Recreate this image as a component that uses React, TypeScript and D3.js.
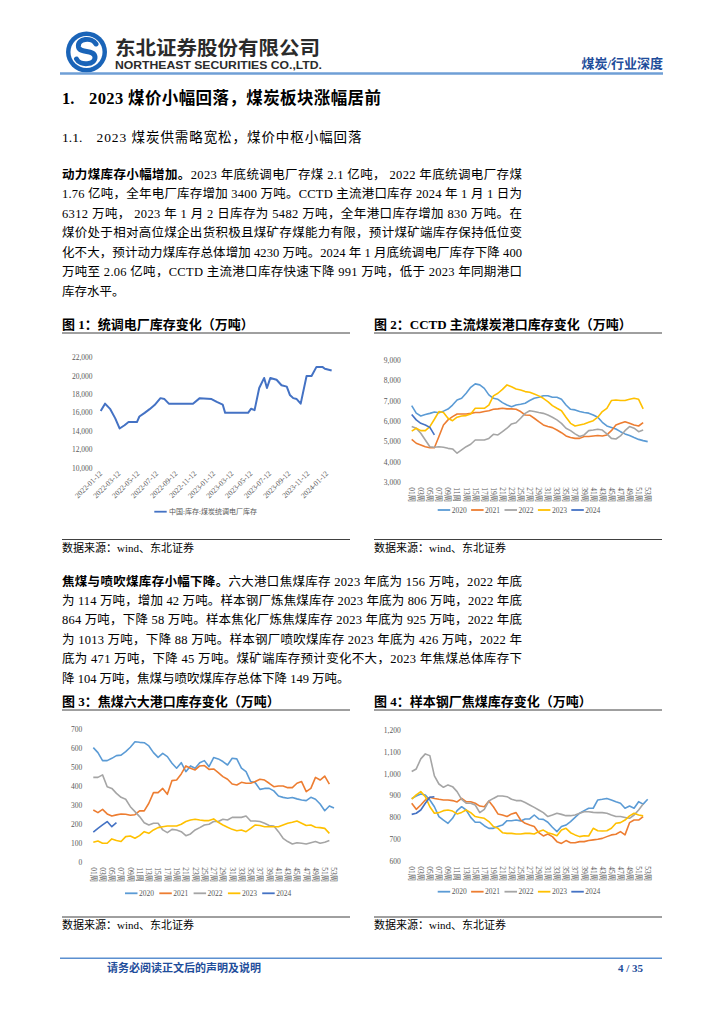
import React from 'react';
import * as d3 from 'd3';

const SERIF = '"Liberation Serif", "Times New Roman", "Noto Sans CJK SC", serif';
const SANS = '"Liberation Sans", Arial, sans-serif';

// ---- shared
const yearNames = ['2020', '2021', '2022', '2023', '2024'];
const yearColors = ['#5B9BD5', '#ED7D31', '#A5A5A5', '#FFC000', '#4472C4'];
const weekTicks = ['01周', '03周', '05周', '07周', '09周', '11周', '13周', '15周', '17周', '19周', '21周', '23周', '25周', '27周',
  '29周', '31周', '33周', '35周', '37周', '39周', '41周', '43周', '45周', '47周', '49周', '51周', '53周'];

// ---- 图1 统调电厂库存
const plantDates = ['2022-01-12', '2022-01-26', '2022-02-12', '2022-02-28', '2022-03-14', '2022-03-30', '2022-04-12', '2022-05-09',
  '2022-05-17', '2022-06-03', '2022-06-19', '2022-07-05', '2022-07-24', '2022-08-06', '2022-08-20', '2022-11-06', '2022-11-28',
  '2023-01-05', '2023-01-22', '2023-02-10', '2023-02-18', '2023-05-03', '2023-05-13', '2023-05-24', '2023-06-08', '2023-06-24',
  '2023-07-03', '2023-07-14', '2023-08-03', '2023-08-19', '2023-09-05', '2023-09-15', '2023-09-26', '2023-10-07', '2023-10-20',
  '2023-11-08', '2023-11-24', '2023-12-10', '2023-12-29', '2024-01-06', '2024-01-28'];
const plantStock = [16200, 17000, 16400, 15400, 14300, 14650, 15000, 15000, 15600, 16000, 16400, 16850, 17600, 17500, 17000, 17000,
  17600, 17500, 17200, 16900, 16000, 16000, 16450, 16300, 18700, 19800, 18700, 19800, 19600, 19000, 18850, 17950, 17600, 17500,
  17000, 20000, 20000, 21000, 21000, 20800, 20600];
const plantTicks = ['2022-01-12', '2022-03-12', '2022-05-12', '2022-07-12', '2022-09-12', '2022-11-12', '2023-01-12', '2023-03-12',
  '2023-05-12', '2023-07-12', '2023-09-12', '2023-11-12', '2024-01-12'];
const plantYTicks = [10000, 12000, 14000, 16000, 18000, 20000, 22000];

// ---- 图2 CCTD 主流港口库存
const cctd2020 = [6770, 6400, 6260, 6330, 6390, 6460, 6420, 6500, 6600, 6800, 7050, 7130, 7380, 7670, 7840, 7790, 7620, 7300, 7130,
  7080, 6920, 6800, 6720, 6800, 6840, 6890, 7020, 7130, 7180, 7260, 7260, 7180, 7180, 7080, 6800, 6590, 6560, 6480, 6430, 6400,
  6310, 6200, 5950, 5770, 5700, 5620, 5490, 5380, 5300, 5200, 5110, 5050, 5000];
const cctd2021 = [5110, 4920, 4840, 4750, 4700, 4700, 5250, 5820, 6070, 6230, 6360, 6360, 6360, 6390, 6430, 6430, 6480, 6520, 6590,
  6610, 6640, 6610, 6610, 6590, 6480, 6310, 6300, 6150, 5980, 5820, 5740, 5690, 5570, 5440, 5280, 5200, 5160, 5160, 5250, 5250,
  5280, 5300, 5280, 5330, 5540, 5820, 5900, 5980, 5900, 5820, 5770, 5930];
const cctd2022 = [5740, 5660, 5410, 5080, 4750, 4720, 4750, 4720, 4670, 4640, 4430, 4590, 4750, 4870, 5080, 5080, 5080, 5160, 5360,
  5330, 5490, 5660, 5870, 5930, 6150, 6390, 6520, 6480, 6430, 6390, 6310, 6200, 6070, 5900, 5660, 5540, 5380, 5250, 5330, 5540,
  5570, 5610, 5570, 5380, 5160, 5130, 5280, 5540, 5740, 5660, 5490, 5570];
const cctd2023 = [5520, 5660, 5540, 5540, 5740, 6100, 6480, 6430, 6150, 6030, 6200, 6260, 6280, 6360, 6640, 6640, 6640, 6800, 7250,
  7380, 7570, 7790, 7700, 7590, 7540, 7460, 7430, 7340, 7250, 7130, 6970, 6770, 6640, 6520, 6200, 5900, 5770, 5820, 5870, 5950,
  6030, 6200, 6480, 6640, 7020, 7050, 7020, 7020, 7080, 7130, 7080, 6610];
const cctd2024 = [6340, 6070, 5900, 5820, 5700, 5330];
const cctdYTicks = [3000, 4000, 5000, 6000, 7000, 8000, 9000];

// ---- 图3 焦煤六大港口库存
const coke2020 = [602, 576, 534, 534, 546, 560, 563, 581, 604, 633, 630, 628, 611, 576, 551, 572, 555, 520, 494, 523, 476, 506, 494,
  523, 534, 502, 550, 543, 529, 511, 546, 543, 494, 476, 424, 418, 383, 388, 388, 375, 348, 341, 336, 340, 333, 327, 324, 341, 331,
  306, 271, 296, 285];
const coke2021 = [275, 261, 278, 254, 243, 249, 254, 252, 247, 250, 270, 270, 310, 366, 366, 388, 357, 429, 432, 464, 506, 494, 485,
  506, 508, 488, 490, 471, 450, 436, 411, 406, 420, 415, 415, 424, 436, 432, 415, 397, 401, 401, 392, 392, 415, 424, 371, 388, 446,
  432, 453, 410];
const coke2022 = [446, 446, 459, 397, 388, 362, 341, 331, 292, 266, 240, 208, 196, 205, 205, 170, 156, 173, 170, 161, 140, 149, 170,
  182, 196, 200, 214, 214, 226, 222, 236, 236, 236, 243, 217, 217, 214, 205, 193, 191, 161, 126, 109, 96, 103, 100, 96, 103, 109,
  100, 105, 114];
const coke2023 = [105, 112, 100, 100, 123, 114, 109, 135, 138, 126, 140, 161, 152, 170, 182, 187, 191, 191, 191, 200, 214, 222, 226,
  222, 219, 219, 228, 210, 196, 184, 173, 166, 170, 161, 178, 196, 193, 187, 187, 187, 187, 196, 205, 210, 217, 205, 193, 196, 184,
  182, 178, 152];
const coke2024 = [158, 178, 196, 214, 187, 208];
const cokeYTicks = [0, 100, 200, 300, 400, 500, 600, 700];

// ---- 图4 样本钢厂焦煤库存
const steel2020 = [887, 899, 908, 904, 881, 850, 805, 789, 774, 797, 832, 850, 835, 801, 779, 779, 763, 751, 751, 759, 766, 786, 786,
  789, 785, 794, 794, 812, 794, 792, 779, 756, 736, 759, 766, 782, 801, 820, 832, 843, 843, 881, 884, 888, 881, 873, 866, 843, 853,
  843, 873, 862, 884];
const steel2021 = [866, 838, 858, 881, 893, 888, 884, 881, 881, 878, 872, 888, 873, 873, 866, 853, 850, 876, 850, 817, 812, 805, 817,
  823, 789, 774, 766, 759, 731, 716, 725, 713, 690, 682, 695, 685, 685, 690, 690, 695, 698, 701, 705, 713, 721, 724, 736, 721, 777,
  789, 789, 805];
const steel2022 = [1011, 1023, 1069, 1092, 1084, 991, 954, 939, 950, 942, 919, 884, 866, 866, 858, 823, 838, 876, 888, 899, 899, 896,
  884, 878, 878, 869, 858, 847, 835, 823, 805, 812, 820, 815, 809, 809, 812, 820, 827, 827, 824, 823, 823, 820, 812, 805, 805, 801,
  797, 812, 835, 862];
const steel2023 = [885, 904, 919, 896, 850, 820, 823, 832, 835, 830, 817, 824, 835, 823, 805, 801, 797, 782, 759, 751, 731, 728, 728,
  725, 725, 728, 728, 725, 736, 743, 731, 725, 717, 743, 751, 731, 721, 713, 717, 716, 751, 740, 739, 740, 751, 774, 777, 789, 808,
  820, 812, 808];
const steel2024 = [815, 820, 835, 866, 893, 896];
const steelYTicks = [600, 700, 800, 900, 1000, 1100, 1200];

// ---- text
const para1 = [
  '2023 年底统调电厂存煤 2.1 亿吨， 2022 年底统调电厂存煤',
  '1.76 亿吨，全年电厂库存增加 3400 万吨。CCTD  主流港口库存 2024 年 1 月 1 日为',
  '6312 万吨， 2023 年 1 月 2 日库存为 5482 万吨，全年港口库存增加 830 万吨。在',
  '煤价处于相对高位煤企出货积极且煤矿存煤能力有限，预计煤矿端库存保持低位变',
  '化不大，预计动力煤库存总体增加 4230 万吨。2024 年 1 月底统调电厂库存下降 400',
  '万吨至 2.06 亿吨，CCTD 主流港口库存快速下降 991 万吨，低于 2023 年同期港口',
  '库存水平。',
];
const para2 = [
  '六大港口焦煤库存 2023 年底为 156 万吨，2022 年底',
  '为 114 万吨，增加 42 万吨。样本钢厂炼焦煤库存 2023 年底为 806 万吨，2022 年底',
  '864 万吨，下降 58 万吨。样本焦化厂炼焦煤库存 2023 年底为 925 万吨，2022 年底',
  '为 1013 万吨，下降 88 万吨。样本钢厂喷吹煤库存 2023 年底为 426 万吨，2022 年',
  '底为 471 万吨，下降 45 万吨。煤矿端库存预计变化不大，2023 年焦煤总体库存下',
  '降 104 万吨，焦煤与喷吹煤库存总体下降 149 万吨。',
];

const Paragraph = ({ lead, lines, y0, step }: { lead: string; lines: string[]; y0: number; step: number }) => (
  <g fontFamily={SERIF} fontSize={12.5} fill="#000">
    {lines.map((l, i) => {
      const last = i === lines.length - 1;
      return (
        <text key={i} x={62} y={y0 + i * step} textLength={last ? undefined : 460} lengthAdjust="spacing">
          {i === 0 && <tspan fontWeight="bold">{lead}</tspan>}
          {l}
        </text>
      );
    })}
  </g>
);

const FigTitle = ({ x, y, w, text }: { x: number; y: number; w: number; text: string }) => (
  <g>
    <text x={x} y={y} fontFamily={SERIF} fontSize={13} fontWeight="bold" fill="#000">{text}</text>
    <line x1={x} x2={x + w} y1={y + 4.5} y2={y + 4.5} stroke="#404040" strokeWidth={1} />
  </g>
);

const Source = ({ x, y, w }: { x: number; y: number; w: number }) => (
  <g>
    <line x1={x} x2={x + w} y1={y - 8} y2={y - 8} stroke="#404040" strokeWidth={1} />
    <text x={x} y={y + 4} fontFamily={SERIF} fontSize={11} fill="#000">数据来源：wind、东北证券</text>
  </g>
);

type WeekProps = {
  series: number[][];
  yTicks: number[];
  x0: number; x1: number; yTop: number; yBottom: number;
  legendX: number; legendY: number; legendStep: number;
  fmt: (n: number) => string;
};

const WeekChart = ({ series, yTicks, x0, x1, yTop, yBottom, legendX, legendY, legendStep, fmt }: WeekProps) => {
  const x = d3.scaleLinear().domain([1, 53]).range([x0, x1]);
  const y = d3.scaleLinear().domain(d3.extent(yTicks) as [number, number]).range([yBottom, yTop]);
  const line = d3.line<number>().x((_, i) => x(i + 1)).y((d) => y(d));
  return (
    <g>
      {yTicks.map((t) => (
        <text key={t} x={x0 - 11} y={y(t)} dy="0.35em" textAnchor="end" fontFamily={SERIF} fontSize={7.5} fill="#595959">{fmt(t)}</text>
      ))}
      {weekTicks.map((t) => {
        const w = parseInt(t, 10);
        return (
          <text key={t} transform={`translate(${x(w)},${yBottom + 5}) rotate(90)`} dy="0.35em" fontFamily={SERIF} fontSize={7.5} fill="#595959">{t}</text>
        );
      })}
      {series.map((s, i) => (
        <path key={i} d={line(s) || ''} fill="none" stroke={yearColors[i]} strokeWidth={1.6} strokeLinejoin="round" />
      ))}
      {yearNames.map((n, i) => (
        <g key={n} transform={`translate(${legendX + i * legendStep},${legendY})`}>
          <line x1={0} x2={12.5} y1={0} y2={0} stroke={yearColors[i]} strokeWidth={1.8} />
          <text x={14} y={0} dy="0.35em" fontFamily={SERIF} fontSize={7.5} fill="#595959">{n}</text>
        </g>
      ))}
    </g>
  );
};

const PlantChart = () => {
  const parse = d3.timeParse('%Y-%m-%d');
  const x = d3.scaleTime().domain([parse('2022-01-12')!, parse('2024-01-12')!]).range([100.7, 326.7]);
  const y = d3.scaleLinear().domain([10000, 22000]).range([468, 357.7]);
  const pts = plantDates.map((d, i) => [x(parse(d)!), y(plantStock[i])] as [number, number]);
  const line = d3.line();
  const fmt = d3.format(',');
  return (
    <g>
      {plantYTicks.map((t) => (
        <text key={t} x={92.5} y={y(t)} dy="0.35em" textAnchor="end" fontFamily={SERIF} fontSize={7.5} fill="#595959">{fmt(t)}</text>
      ))}
      {plantTicks.map((t) => (
        <text key={t} transform={`translate(${x(parse(t)!) + 2},${474}) rotate(-45)`} textAnchor="end" fontFamily={SERIF} fontSize={7.5} fill="#595959">{t}</text>
      ))}
      <path d={line(pts) || ''} fill="none" stroke="#4472C4" strokeWidth={2} strokeLinejoin="round" />
      <line x1={154.3} x2={166.7} y1={511.7} y2={511.7} stroke="#4472C4" strokeWidth={1.8} />
      <text x={169} y={511.7} dy="0.35em" fontFamily={SERIF} fontSize={7} fill="#595959">中国:库存:煤炭统调电厂库存</text>
    </g>
  );
};

export default function App() {
  const comma = d3.format(',');
  return (
    <svg width={724} height={1024} viewBox="0 0 724 1024" style={{ position: 'absolute', left: 0, top: 0, background: '#fff' }}>
      <rect width={724} height={1024} fill="#fff" />
      {/* header */}
      <circle cx={86.5} cy={52} r={20.5} fill="#1a64b8" />
      <circle cx={86.5} cy={52} r={16} fill="#fff" />
      <path d="M 96 44 C 92 37, 77 38, 78.5 47 C 80 54, 94.5 49, 95 57 C 95.5 65, 80 66, 76.5 59" fill="none" stroke="#1a64b8" strokeWidth={5} strokeLinecap="round" />
      <text x={115} y={54.5} fontFamily='"Noto Sans CJK SC", sans-serif' fontWeight="bold" fontSize={19} textLength={205} lengthAdjust="spacingAndGlyphs" fill="#2b2b2b">东北证券股份有限公司</text>
      <text x={115} y={68.5} fontFamily={SANS} fontWeight="bold" fontSize={11.5} textLength={207} lengthAdjust="spacingAndGlyphs" fill="#2b2b2b">NORTHEAST SECURITIES CO.,LTD.</text>
      <text x={663} y={67.5} textAnchor="end" fontFamily={SERIF} fontSize={13} fontWeight="bold" fill="#1f4e9b">煤炭/行业深度</text>
      <line x1={60} x2={663} y1={73.5} y2={73.5} stroke="#6f9fd6" strokeWidth={2.5} />

      {/* headings */}
      <g fontFamily={SERIF} fontWeight="bold" fontSize={16.5} fill="#000">
        <text x={62} y={104}>1.</text>
        <text x={89} y={104} textLength={292} lengthAdjust="spacing">2023 煤价小幅回落，煤炭板块涨幅居前</text>
      </g>
      <g fontFamily={SERIF} fontSize={13.5} fill="#000">
        <text x={62} y={141.5}>1.1.</text>
        <text x={96.5} y={141.5} textLength={265} lengthAdjust="spacing">2023 煤炭供需略宽松，煤价中枢小幅回落</text>
      </g>

      <Paragraph lead="动力煤库存小幅增加。" lines={para1} y0={178.5} step={19.5} />

      {/* figures row 1 */}
      <FigTitle x={62} y={328.5} w={288} text="图 1：统调电厂库存变化（万吨）" />
      <FigTitle x={374} y={328.5} w={288} text="图 2：CCTD 主流煤炭港口库存变化（万吨）" />
      <PlantChart />
      <WeekChart series={[cctd2020, cctd2021, cctd2022, cctd2023, cctd2024]} yTicks={cctdYTicks} x0={411.7} x1={647.7}
        yTop={360.3} yBottom={482.3} legendX={437.7} legendY={510} legendStep={33.4} fmt={comma} />
      <Source x={62} y={547.5} w={288} />
      <Source x={374} y={547.5} w={288} />

      <Paragraph lead="焦煤与喷吹煤库存小幅下降。" lines={para2} y0={585.5} step={19.4} />

      {/* figures row 2 */}
      <FigTitle x={62} y={705.5} w={288} text="图 3：焦煤六大港口库存变化（万吨）" />
      <FigTitle x={374} y={705.5} w={288} text="图 4：样本钢厂焦煤库存变化（万吨）" />
      <WeekChart series={[coke2020, coke2021, coke2022, coke2023, coke2024]} yTicks={cokeYTicks} x0={93.3} x1={334}
        yTop={729} yBottom={862.3} legendX={125} legendY={893.3} legendStep={34.3} fmt={comma} />
      <WeekChart series={[steel2020, steel2021, steel2022, steel2023, steel2024]} yTicks={steelYTicks} x0={411.7} x1={647.7}
        yTop={730.3} yBottom={861.3} legendX={437.7} legendY={891.7} legendStep={33.4} fmt={comma} />
      <Source x={62} y={925} w={288} />
      <Source x={374} y={925} w={288} />

      {/* footer */}
      <line x1={60} x2={662} y1={958.3} y2={958.3} stroke="#5b8fd0" strokeWidth={1.5} />
      <text x={107} y={971.5} fontFamily={SERIF} fontSize={11} fontWeight="bold" fill="#1f4e9b">请务必阅读正文后的声明及说明</text>
      <text x={643} y={971.5} textAnchor="end" fontFamily={SERIF} fontSize={11} fontWeight="bold" fill="#1f4e9b">4 / 35</text>
    </svg>
  );
}
